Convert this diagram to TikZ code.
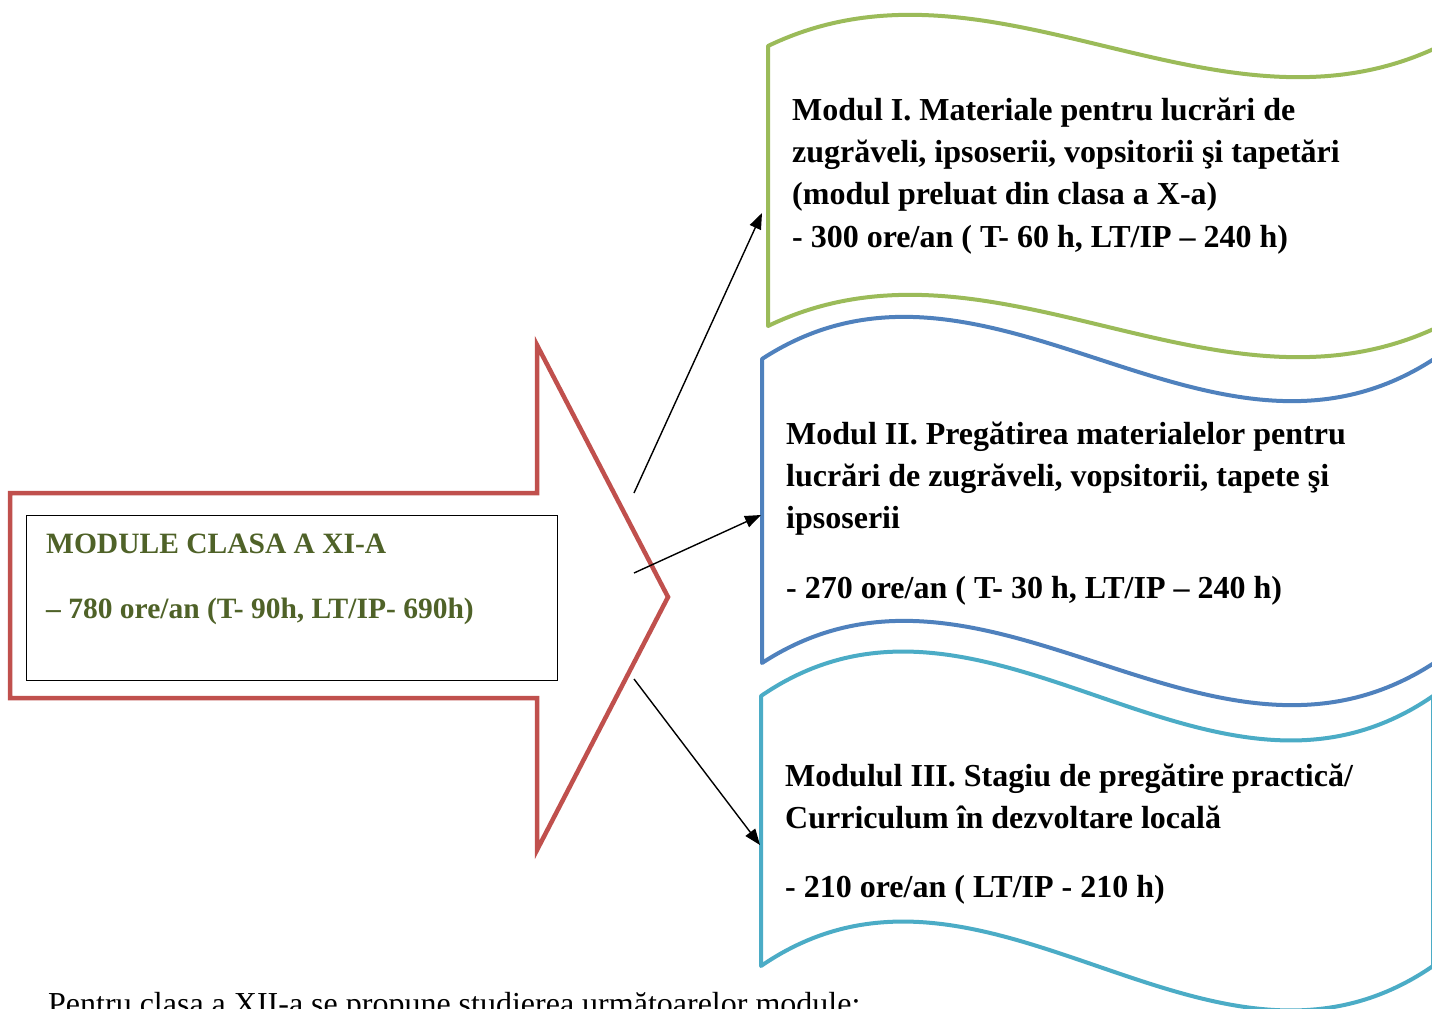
\documentclass[tikz,border=0pt]{standalone}
\usepackage{fontspec}
\setmainfont{Liberation Serif}
\usetikzlibrary{arrows.meta}
\definecolor{mgreen}{HTML}{9BBB59}
\definecolor{mblue}{HTML}{4F81BD}
\definecolor{mteal}{HTML}{4BACC6}
\definecolor{mred}{HTML}{C0504D}
\definecolor{molive}{HTML}{4F6228}
\tikzset{
  wavebox/.style={line width=4pt, fill=white, line join=round},
  modtext/.style={anchor=base west, inner sep=0pt, font=\fontsize{32}{38}\selectfont\bfseries},
  lefttext/.style={anchor=base west, inner sep=0pt, text=molive, font=\fontsize{29.5}{34}\selectfont\bfseries},
  conn/.style={line width=1.4pt, -{Triangle[length=16pt,width=12pt]}},
}
\begin{document}
\begin{tikzpicture}[x=1pt,y=-1pt]
\useasboundingbox (0,0) rectangle (1432,1009);
\clip (0,0) rectangle (1432,1009);
\fill[white] (0,0) rectangle (1432,1009);
% red arrow
\draw[draw=mred, line width=4.5pt, line join=miter]
  (10,493) -- (537,493) -- (537,345) -- (668,597) -- (537,850) -- (537,698) -- (10,698) -- cycle;
\node[draw=black, line width=1.4pt, minimum width=531pt, minimum height=165pt, inner sep=0pt, anchor=north west] (mainbox) at (26,515) {};
\node[lefttext] (l1) at (46,553) {MODULE CLASA A XI-A};
\node[lefttext] (l2) at (46,618) {– 780 ore/an (T- 90h, LT/IP- 690h)};
% wave shapes
\draw[wavebox, draw=mgreen] (768,46) .. controls (992,-62) and (1216,154) .. (1440,46)
  -- (1440,326) .. controls (1216,434) and (992,218) .. (768,326) -- cycle;
\draw[wavebox, draw=mblue] (762,359) .. controls (986,213) and (1210,505) .. (1434,359)
  -- (1434,663) .. controls (1210,809) and (986,517) .. (762,663) -- cycle;
\draw[wavebox, draw=mteal] (761,696) .. controls (985,542) and (1209,850) .. (1433,696)
  -- (1433,966) .. controls (1209,1120) and (985,812) .. (761,966) -- cycle;
% module texts
\node[modtext] (m1a) at (792,120) {Modul I. Materiale pentru lucrări de};
\node[modtext] (m1b) at (792,162) {zugrăveli, ipsoserii, vopsitorii şi tapetări};
\node[modtext] (m1c) at (792,204) {(modul preluat din clasa a X-a)};
\node[modtext] (m1d) at (792,247) {- 300 ore/an ( T- 60 h, LT/IP – 240 h)};
\node[modtext] (m2a) at (786,444) {Modul II. Pregătirea materialelor pentru};
\node[modtext] (m2b) at (786,486) {lucrări de zugrăveli, vopsitorii, tapete şi};
\node[modtext] (m2c) at (786,528) {ipsoserii};
\node[modtext] (m2d) at (786,598) {- 270 ore/an ( T- 30 h, LT/IP – 240 h)};
\node[modtext] (m3a) at (785,786) {Modulul III. Stagiu de pregătire practică/};
\node[modtext] (m3b) at (785,828) {Curriculum în dezvoltare locală};
\node[modtext] (m3c) at (785,897) {- 210 ore/an ( LT/IP - 210 h)};
% connectors
\coordinate (s1) at (634,493);
\coordinate (s2) at (634,573);
\coordinate (s3) at (634,679);
\coordinate (t1) at (762,213);
\coordinate (t2) at (761,515);
\coordinate (t3) at (760,845);
\draw[conn] (s1) -- (t1);
\draw[conn] (s2) -- (t2);
\draw[conn] (s3) -- (t3);
% bottom text
\node[anchor=base west, inner sep=0pt, font=\fontsize{32}{38}\selectfont] (foot) at (48,1014) {Pentru clasa a XII-a se propune studierea următoarelor module:};
\end{tikzpicture}
\end{document}
